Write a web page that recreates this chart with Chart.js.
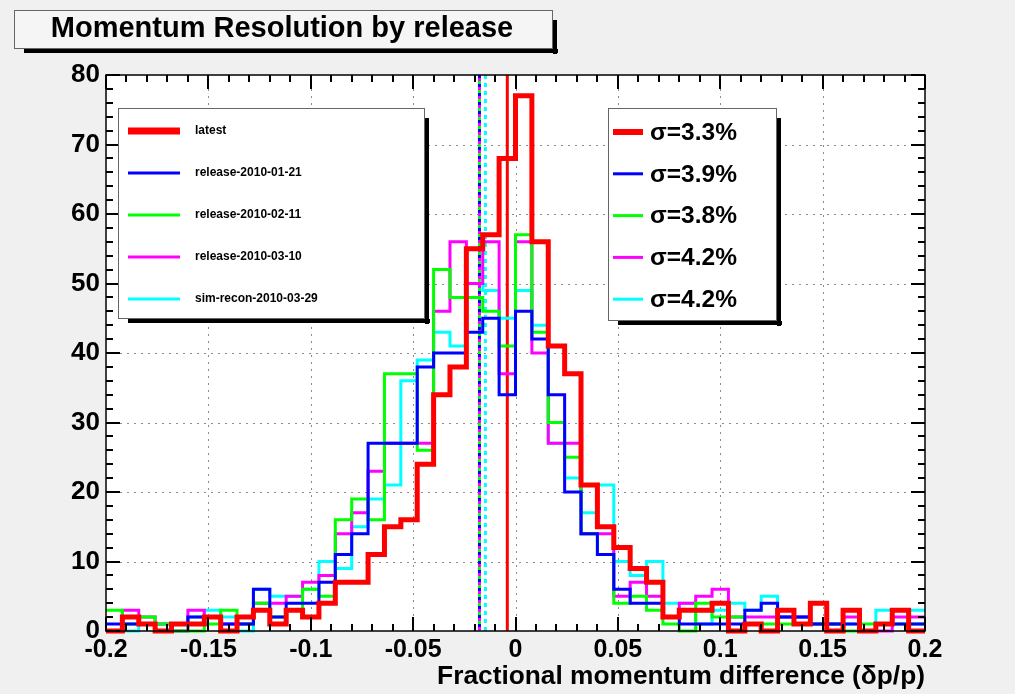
<!DOCTYPE html>
<html>
<head>
<meta charset="utf-8">
<script src="https://cdn.jsdelivr.net/npm/chart.js@4.4.1/dist/chart.umd.min.js"></script>
<style>
  html, body { margin: 0; padding: 0; background: #f0f0f0; }
  canvas { display: block; }
</style>
</head>
<body>
<canvas id="grafico_hist" width="1015" height="694"></canvas>
<script>
// histogram binning: 50 bins of 0.008 between -0.2 and 0.2
const binLow = -0.2
const binWidth = 0.008

const latest   = [0,2,1,0,1,1,2,0,2,3, 1,3,2,4,7,7,11,15,16,24, 34,38,55,57,68,77,56,41,37,21, 15,12,9,7,2,3,3,4,0,1, 0,3,1,4,0,3,0,1,3,0]
const rel0121  = [1,1,1,0,1,2,2,1,1,6, 2,4,4,7,11,14,27,27,27,38, 40,40,43,45,34,46,42,34,20,14, 11,6,4,4,2,1,1,1,1,3, 4,2,2,1,1,1,0,1,1,1]
const rel0211  = [3,1,2,1,0,0,1,3,1,4, 2,3,6,5,16,19,16,37,37,26, 52,48,48,46,41,57,43,30,25,14, 11,4,5,3,1,0,4,2,2,1, 1,1,1,1,1,0,1,1,1,1]
const rel0310  = [0,3,2,1,0,3,2,1,1,4, 4,5,7,8,14,17,23,27,27,27, 46,56,50,56,37,56,40,27,27,14, 14,5,7,5,2,4,5,6,2,2, 2,2,2,1,1,2,0,0,2,2]
const simRecon = [0,0,1,1,0,2,3,2,0,6, 5,5,6,10,9,15,19,21,36,39, 43,41,50,49,45,49,44,27,22,17, 21,10,8,10,4,4,1,3,4,3, 5,2,2,1,1,1,0,3,3,3]

const seriesNames = ['latest', 'release-2010-01-21', 'release-2010-02-11', 'release-2010-03-10', 'sim-recon-2010-03-29']
const sigmaLabels = ['σ=3.3%', 'σ=3.9%', 'σ=3.8%', 'σ=4.2%', 'σ=4.2%']
const meanValues = [-0.004, -0.0176, -0.0176, -0.0176, -0.0147]
const colors = ['rgb(255,0,0)', 'rgb(0,0,255)', 'rgb(0,255,0)', 'rgb(255,0,255)', 'rgb(0,255,255)']
const lineWidths = [5, 3, 3, 3, 3]

const xTickValues = [-0.2, -0.15, -0.1, -0.05, 0, 0.05, 0.1, 0.15, 0.2]
const yTickValues = [0, 10, 20, 30, 40, 50, 60, 70, 80]
const xMinorStep = 0.01
const yMinorStep = 2

const fam = '"Liberation Sans", Arial, Helvetica, sans-serif'

// turn bin contents into points on the bin edges (stepped line)
function toSteps(values) {
  const pts = values.map((v, i) => ({ x: binLow + i * binWidth, y: v }))
  pts.push({ x: binLow + values.length * binWidth, y: values[values.length - 1] })
  return pts
}

const allSeries = [latest, rel0121, rel0211, rel0310, simRecon]

const datasets = allSeries.map((vals, i) => ({
  label: seriesNames[i],
  data: toSteps(vals),
  borderColor: colors[i],
  borderWidth: lineWidths[i],
  stepped: 'before',
  fill: false,
  pointRadius: 0,
  borderJoinStyle: 'miter',
  clip: 8,
  order: i
}))

function rootBox(ctx, x, y, w, h, fill) {
  ctx.fillStyle = '#000'
  ctx.fillRect(x + w - 1, y + 10, 4, h - 6)
  ctx.fillRect(x + 10, y + h - 1, w - 6, 4)
  ctx.fillStyle = fill
  ctx.fillRect(x, y, w - 1, h - 1)
  ctx.strokeStyle = '#666'
  ctx.lineWidth = 1
  ctx.strokeRect(x + 0.5, y + 0.5, w - 2, h - 2)
}

const rootDecor = {
  id: 'rootDecor',
  beforeDraw(chart) {
    const { ctx, chartArea: a } = chart
    const xs = chart.scales.x, ys = chart.scales.y
    ctx.save()
    ctx.fillStyle = '#f0f0f0'
    ctx.fillRect(0, 0, chart.width, chart.height)
    ctx.fillStyle = '#fff'
    ctx.fillRect(a.left, a.top, a.right - a.left, a.bottom - a.top)
    // dotted grid
    ctx.strokeStyle = '#8c8c8c'
    ctx.lineWidth = 1
    ctx.setLineDash([2, 5])
    xTickValues.slice(1, -1).forEach(v => {
      const x = Math.round(xs.getPixelForValue(v)) + 0.5
      ctx.beginPath(); ctx.moveTo(x, a.top); ctx.lineTo(x, a.bottom); ctx.stroke()
    })
    yTickValues.slice(1, -1).forEach(v => {
      const y = Math.round(ys.getPixelForValue(v)) + 0.5
      ctx.beginPath(); ctx.moveTo(a.left, y); ctx.lineTo(a.right, y); ctx.stroke()
    })
    ctx.restore()
  },
  beforeDatasetsDraw(chart) {
    const { ctx, chartArea: a } = chart
    const xs = chart.scales.x
    ctx.save()
    // mean lines
    meanValues.forEach((m, i) => {
      const x = xs.getPixelForValue(m)
      ctx.strokeStyle = colors[i]
      ctx.lineWidth = 3
      ctx.beginPath()
      if (i === 0) {
        ctx.setLineDash([])
      } else {
        ctx.setLineDash(i === 4 ? [4, 4] : [3, 6])
        ctx.lineDashOffset = i === 4 ? 0 : (i - 1) * 3
      }
      ctx.moveTo(x, a.top); ctx.lineTo(x, a.bottom); ctx.stroke()
    })
    ctx.restore()
  },
  afterDatasetsDraw(chart) {
    const { ctx, chartArea: a } = chart
    const xs = chart.scales.x, ys = chart.scales.y
    ctx.save()
    ctx.strokeStyle = '#000'
    ctx.lineWidth = 1.5
    ctx.strokeRect(a.left, a.top, a.right - a.left, a.bottom - a.top)
    ctx.lineWidth = 2
    for (let v = 0; v <= 80 + 1e-9; v += yMinorStep) {
      const y = Math.round(ys.getPixelForValue(v))
      const len = v % 10 === 0 ? 14 : 7
      ctx.beginPath()
      ctx.moveTo(a.left, y); ctx.lineTo(a.left + len, y)
      ctx.moveTo(a.right, y); ctx.lineTo(a.right - len, y)
      ctx.stroke()
    }
    for (let k = 0; k <= 40; k++) {
      const v = -0.2 + k * xMinorStep
      const x = Math.round(xs.getPixelForValue(v))
      const len = k % 5 === 0 ? 14 : 7
      ctx.beginPath()
      ctx.moveTo(x, a.bottom); ctx.lineTo(x, a.bottom - len)
      ctx.moveTo(x, a.top); ctx.lineTo(x, a.top + len)
      ctx.stroke()
    }
    ctx.restore()
  },
  afterDraw(chart) {
    const { ctx } = chart
    ctx.save()
    // title box
    rootBox(ctx, 14, 10, 540, 40, '#f5f5f5')
    ctx.fillStyle = '#000'
    ctx.font = 'bold 29px ' + fam
    ctx.textAlign = 'center'
    ctx.textBaseline = 'middle'
    ctx.fillText('Momentum Resolution by release', 282, 29)

    // legend with release names
    rootBox(ctx, 118, 108, 308, 212, '#fff')
    ctx.textAlign = 'left'
    ctx.font = 'bold 12px ' + fam
    seriesNames.forEach((name, i) => {
      const y = 131 + i * 42
      ctx.fillStyle = colors[i]
      const t = i === 0 ? 7 : 3
      ctx.fillRect(128, y - t / 2, 52, t)
      ctx.fillStyle = '#000'
      ctx.fillText(name, 195, y)
    })

    // legend with widths
    rootBox(ctx, 608, 108, 170, 214, '#fff')
    ctx.font = 'bold 24.5px ' + fam
    sigmaLabels.forEach((s, i) => {
      const y = 132 + i * 41.8
      ctx.fillStyle = colors[i]
      const t = i === 0 ? 6 : 3
      ctx.fillRect(613, y - t / 2, 30, t)
      ctx.fillStyle = '#000'
      ctx.fillText(s, 650, y + 1)
    })
    ctx.restore()
  }
}

const ctx = document.getElementById('grafico_hist')

const config = {
  type: 'line',
  data: { datasets },
  options: {
    responsive: false,
    animation: false,
    events: [],
    layout: { padding: { left: 0, right: 90, top: 75, bottom: 0 } },
    plugins: { legend: { display: false }, tooltip: { enabled: false } },
    scales: {
      x: {
        type: 'linear',
        min: -0.2,
        max: 0.2,
        afterBuildTicks: s => { s.ticks = xTickValues.map(v => ({ value: v })) },
        afterFit: s => { s.height = 63 },
        grid: { display: false, drawTicks: false },
        border: { display: false },
        ticks: {
          color: '#000',
          font: { family: fam, size: 25, weight: 'bold' },
          padding: 4,
          maxRotation: 0,
          autoSkip: false,
          callback: v => String(v)
        },
        title: {
          display: true,
          text: 'Fractional momentum difference (δp/p)',
          align: 'end',
          color: '#000',
          font: { family: fam, size: 26.3, weight: 'bold' },
          padding: { top: 0, bottom: 1 }
        }
      },
      y: {
        type: 'linear',
        min: 0,
        max: 80,
        afterBuildTicks: s => { s.ticks = yTickValues.map(v => ({ value: v })) },
        afterFit: s => { s.width = 106 },
        grid: { display: false, drawTicks: false },
        border: { display: false },
        ticks: {
          color: '#000',
          font: { family: fam, size: 26, weight: 'bold' },
          padding: 6
        }
      }
    }
  },
  plugins: [rootDecor]
}

const graph = new Chart(ctx, config)
</script>
</body>
</html>
